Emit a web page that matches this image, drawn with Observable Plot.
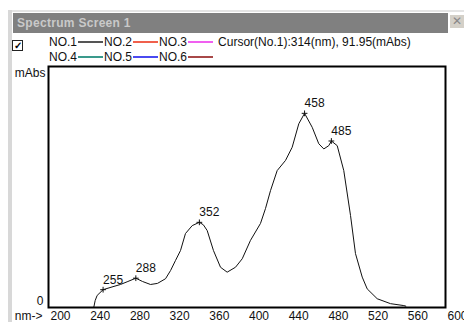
<!DOCTYPE html>
<html>
<head>
<meta charset="utf-8">
<script src="https://cdn.jsdelivr.net/npm/d3@7"></script>
<script src="https://cdn.jsdelivr.net/npm/@observablehq/plot@0.6"></script>
<style>
  html, body { margin: 0; padding: 0; }
  body { width: 464px; height: 322px; position: relative; overflow: hidden; background: #fff; font-family: Arial, "Liberation Sans", sans-serif; }
  #chart { position: absolute; left: 0; top: 0; }
  .titlebar { position: absolute; left: 13px; top: 13px; width: 435px; height: 20px; background: #808080; color: #c9c9c9; font-weight: bold; font-size: 12px; line-height: 20px; padding-left: 4px; box-sizing: border-box; letter-spacing: 0.3px; }
  .winline { position: absolute; left: 10px; top: 10px; width: 454px; height: 2px; background: #e4e4e4; }
  .leftedge { position: absolute; left: 8px; top: 10px; width: 4px; height: 312px; background: #d8d8d8; }
  .closebtn { position: absolute; left: 449px; top: 14px; width: 15px; height: 14px; background: #d4d0c8; border-top: 1px solid #fff; border-left: 1px solid #fff; box-sizing: border-box; color: #888; font-size: 12px; line-height: 13px; text-align: center; }
  .check { position: absolute; left: 12px; top: 40px; width: 11px; height: 11px; border: 1px solid #222; box-sizing: border-box; font-size: 10px; line-height: 9px; text-align: center; font-weight: bold; }
  .legrow { position: absolute; left: 49px; font-size: 12px; height: 14px; line-height: 14px; display: flex; align-items: center; white-space: nowrap; color: #111; }
  .legrow .sw { display: inline-block; width: 25px; height: 2px; margin: 0 1px 0 1px; }
  .legrow .cur { margin-left: 4px; }
</style>
</head>
<body>
<div id="chart"></div>
<div class="winline"></div>
<div class="leftedge"></div>
<div class="titlebar">Spectrum Screen 1</div>
<div class="closebtn">✕</div>
<div class="check">✓</div>
<div class="legrow" id="row1" style="top:35px"></div>
<div class="legrow" id="row2" style="top:50px"></div>
<script>
// Spectrum data (nm, mAbs)
const wavelength = [200, 245.6, 247, 249, 255, 264, 272.5, 280, 288, 294.7, 302.8, 309.8, 317.9, 323, 328, 333, 338, 344.8, 352, 356, 359.9, 366.2, 373.3, 380, 388.4, 395.2, 403.5, 413.6, 418.6, 423.7, 430.4, 438.8, 445.5, 452.2, 458, 465.7, 472.3, 477.4, 482.4, 485, 490.9, 497.5, 504.3, 509.3, 516.1, 521.1, 531.2, 544.6, 558, 560];
const absorbance = [0, 0, 25, 44, 65, 75, 84, 95, 107, 95, 84, 88, 105, 135, 172, 208, 270, 299, 311, 302, 281, 208, 147, 129, 147, 178, 245, 307, 361, 427, 500, 537, 585, 671, 709, 658, 598, 579, 591, 608, 591, 500, 336, 197, 111, 68, 32, 14, 7, 5];

const peakNm = [255, 288, 352, 458, 485];
const peakAbs = [65, 107, 311, 709, 608];
const peakLabels = ["255", "288", "352", "458", "485"];

const xTicks = [200, 240, 280, 320, 360, 400, 440, 480, 520, 560, 600];
const yTickLabels = ["0"];

const seriesRow1 = ["NO.1", "NO.2", "NO.3"];
const colorsRow1 = ["#555555", "#f0604c", "#f060f0"];
const seriesRow2 = ["NO.4", "NO.5", "NO.6"];
const colorsRow2 = ["#3a9a8c", "#4a4af0", "#a84848"];
const cursorText = "Cursor(No.1):314(nm), 91.95(mAbs)";

const spectrum = wavelength.map((w, i) => ({nm: w, abs: absorbance[i]}));
const peaks = peakNm.map((w, i) => ({nm: w, abs: peakAbs[i], label: peakLabels[i]}));

const chart = Plot.plot({
  width: 464,
  height: 322,
  marginLeft: 48,
  marginRight: 19,
  marginTop: 66,
  marginBottom: 15,
  style: {background: "transparent", fontFamily: "Arial, 'Liberation Sans', sans-serif", fontSize: "12px", color: "#111"},
  x: {domain: [200, 600], axis: null},
  y: {domain: [0, 880], axis: null},
  marks: [
    Plot.line(spectrum, {x: "nm", y: "abs", stroke: "#111", strokeWidth: 1}),
    Plot.frame({stroke: "#000", strokeWidth: 2}),
    Plot.dot(peaks, {x: "nm", y: "abs", symbol: "plus", r: 2, stroke: "#111", strokeWidth: 1}),
    Plot.text(peaks, {x: "nm", y: "abs", text: "label", textAnchor: "start", dy: -10, dx: 0, fill: "#111", fontSize: 12}),
    Plot.text(xTicks, {x: d => d, text: d => String(d), frameAnchor: "bottom", textAnchor: "start", lineAnchor: "middle", dy: 9, dx: 2, fill: "#111", fontSize: 12}),
    Plot.text(yTickLabels, {y: [0], text: d => d, frameAnchor: "left", textAnchor: "end", lineAnchor: "middle", dx: -5, dy: -6, fill: "#111", fontSize: 12}),
    Plot.text(["mAbs"], {frameAnchor: "top-left", textAnchor: "end", lineAnchor: "middle", dx: -3, dy: 7, fill: "#111", fontSize: 12}),
    Plot.text(["nm->"], {frameAnchor: "bottom-left", textAnchor: "end", lineAnchor: "middle", dx: -6, dy: 9, fill: "#111", fontSize: 12})
  ]
});
document.getElementById("chart").appendChild(chart);

function buildRow(el, names, colors, extra) {
  names.forEach((n, i) => {
    const s = document.createElement("span");
    s.textContent = n;
    el.appendChild(s);
    const sw = document.createElement("span");
    sw.className = "sw";
    sw.style.background = colors[i];
    el.appendChild(sw);
  });
  if (extra) {
    const c = document.createElement("span");
    c.className = "cur";
    c.textContent = extra;
    el.appendChild(c);
  }
}
buildRow(document.getElementById("row1"), seriesRow1, colorsRow1, cursorText);
buildRow(document.getElementById("row2"), seriesRow2, colorsRow2, null);
</script>
</body>
</html>
